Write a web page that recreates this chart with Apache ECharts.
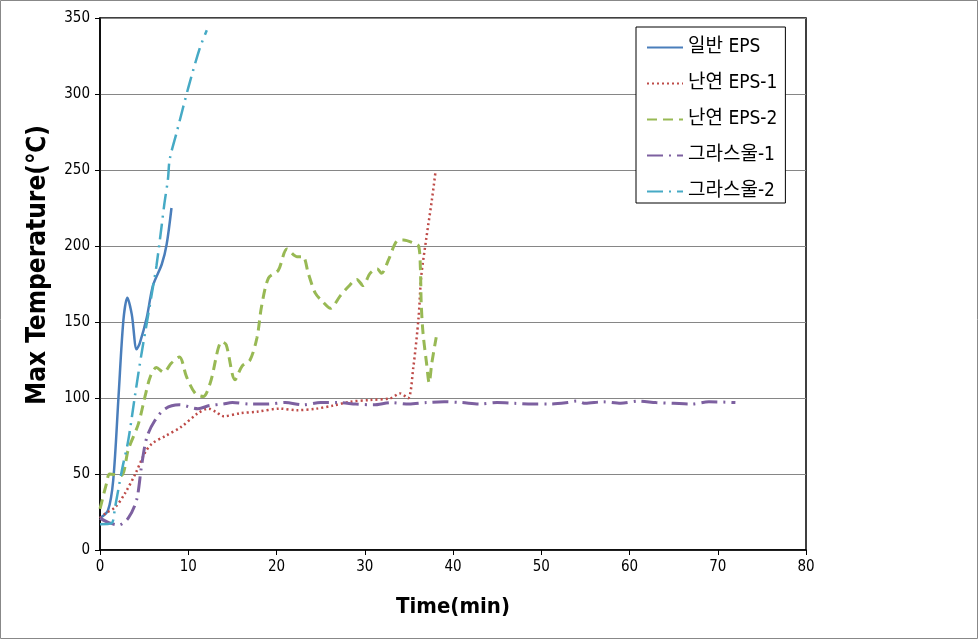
<!DOCTYPE html>
<html><head><meta charset="utf-8">
<script src="https://cdn.jsdelivr.net/npm/echarts@6/dist/echarts.min.js"></script>
<style>html,body{margin:0;padding:0;background:#fff}#c{width:979px;height:640px}</style>
</head><body><div id="c"></div>
<script>
const seriesNames = ['일반 EPS', '난연 EPS-1', '난연 EPS-2', '그라스울-1', '그라스울-2'];
const xTicks = [0, 10, 20, 30, 40, 50, 60, 70, 80];
const yTicks = [0, 50, 100, 150, 200, 250, 300, 350];

const generalEPS = [[0,21],[0.9,26],[1.5,46],[2.1,101],[2.65,151],[3.1,166],[3.6,155],[4.15,132],[4.5,136],[5.3,153],[6.0,174],[7.0,188],[7.55,201],[8.1,225]];
const frEPS1 = [[0,21],[0.6,24],[1.7,28],[2.8,37],[4.0,50],[5.1,64],[5.9,70],[7.4,75],[9.2,81],[11.1,90],[12.3,93],[13.1,91],[14.0,88],[15.9,90],[17.8,91],[20.4,93],[22.3,92],[24.5,93],[26.4,95],[28.3,97.5],[30.6,98.7],[32.9,99.8],[34.0,103],[34.9,99.8],[35.5,120],[36.1,153],[36.4,180],[37.0,206],[37.6,230],[38.0,248]];
const frEPS2 = [[0,27],[0.75,44],[1.1,50],[2.4,49],[3.2,66],[4.35,83],[5.1,101],[5.7,114],[6.4,120],[7.2,117],[8.1,123],[9.0,127],[9.8,114],[10.8,103],[11.7,101],[12.5,110],[13.8,137],[14.3,135],[15.3,112],[16.1,121],[17.0,125],[17.8,140],[18.3,160],[19.1,179],[20.2,184],[21.2,198],[22.3,193],[23.0,193],[23.6,182],[24.4,169],[25.3,163],[26.1,159],[27.2,167],[28.1,173],[29.1,178],[29.8,174],[30.6,182],[31.4,185],[31.9,182],[32.7,191],[33.6,203],[34.4,204],[35.5,202],[36.1,200],[36.3,186],[36.4,162],[36.6,143],[37.0,123],[37.3,110],[37.6,123],[38.1,140]];
const glassWool1 = [[0,21],[1.0,18],[2.1,16.4],[3.2,21],[4.15,33],[4.7,55],[5.3,74],[6.2,85],[7.4,93],[9.0,95.5],[11.1,93],[12.4,95],[13.9,96],[15,97],[17,96],[19,96],[21,97],[23,95.5],[25,97],[27,97],[29,96],[31,95.5],[33,97],[35,96],[37,97],[39,97.5],[41,97],[43,96],[45,97],[47,96.5],[49,96],[51,96],[53,97],[54,98],[55,96.5],[57,97.5],[59,96.5],[61,98],[63,97],[65,96.5],[67,96],[69,97.5],[72,97]];
const glassWool2 = [[0,17],[1.3,17.5],[1.7,28],[2.5,53],[3.2,72],[4.0,103],[4.7,129],[5.5,156],[6.0,173],[6.4,187],[7.0,214],[7.3,228],[7.7,244],[7.9,257],[8.7,275],[10.0,304],[11.3,330],[12.1,342]];

const colors = ['#4A7EBB', '#BE4B48', '#98B954', '#7D60A0', '#46AAC5'];
const dashes = ['solid', [2, 3], [10, 6], [16, 6, 2, 6], [16, 6, 2, 6]];
const widths = [2.5, 2.5, 3, 3, 2.5];
const dataSets = [generalEPS, frEPS1, frEPS2, glassWool1, glassWool2];

const FONT = "'Liberation Sans Narrow', 'DejaVu Sans Condensed', 'Noto Sans CJK KR', sans-serif";
const chart = echarts.init(document.getElementById('c'), null, {renderer: 'canvas'});
chart.setOption({
  animation: false,
  backgroundColor: '#fff',
  grid: {left: 100, top: 18, width: 706, height: 532, show: true, borderColor: '#000', borderWidth: 1.5},
  xAxis: {
    type: 'value', min: 0, max: 80, interval: 10,
    name: 'Time(min)', nameLocation: 'middle', nameGap: 46,
    nameTextStyle: {fontFamily: FONT, fontWeight: 'bold', fontSize: 22, color: '#000'},
    axisLine: {show: true, lineStyle: {color: '#000', width: 1.5}},
    axisTick: {show: true, length: 5, lineStyle: {color: '#000'}},
    axisLabel: {fontFamily: FONT, fontSize: 15, color: '#000', margin: 10,
      formatter: v => xTicks.includes(v) ? String(v) : ''},
    splitLine: {show: false}
  },
  yAxis: {
    type: 'value', min: 0, max: 350, interval: 50,
    name: 'Max Temperature(℃)', nameLocation: 'middle', nameGap: 49,
    nameTextStyle: {fontFamily: FONT, fontWeight: 'bold', fontSize: 26, color: '#000', padding: [0, 0, 0, 38]},
    axisLine: {show: true, lineStyle: {color: '#000', width: 1.5}},
    axisTick: {show: true, length: 5, lineStyle: {color: '#000'}},
    axisLabel: {fontFamily: FONT, fontSize: 15, color: '#000', margin: 10,
      formatter: v => yTicks.includes(v) ? String(v) : ''},
    splitLine: {show: true, lineStyle: {color: '#868686', width: 1}}
  },
  legend: {
    orient: 'vertical', left: 636, top: 27,
    padding: [11, 8, 2, 10], itemGap: 17, itemWidth: 36, itemHeight: 14,
    borderColor: '#000', borderWidth: 1, backgroundColor: '#fff',
    itemStyle: {opacity: 0},
    textStyle: {fontFamily: FONT, fontSize: 19, color: '#000'},
    data: seriesNames
  },
  graphic: [{type: 'rect', shape: {x: 0.5, y: 0.5, width: 977, height: 638}, style: {fill: 'none', stroke: '#888', lineWidth: 1}, silent: true}],
  series: seriesNames.map((n, i) => ({
    name: n, type: 'line', data: dataSets[i], smooth: 0.3, showSymbol: false, symbol: 'none',
    lineStyle: {color: colors[i], type: dashes[i], width: widths[i]},
    itemStyle: {color: colors[i]}
  }))
});
</script></body></html>
